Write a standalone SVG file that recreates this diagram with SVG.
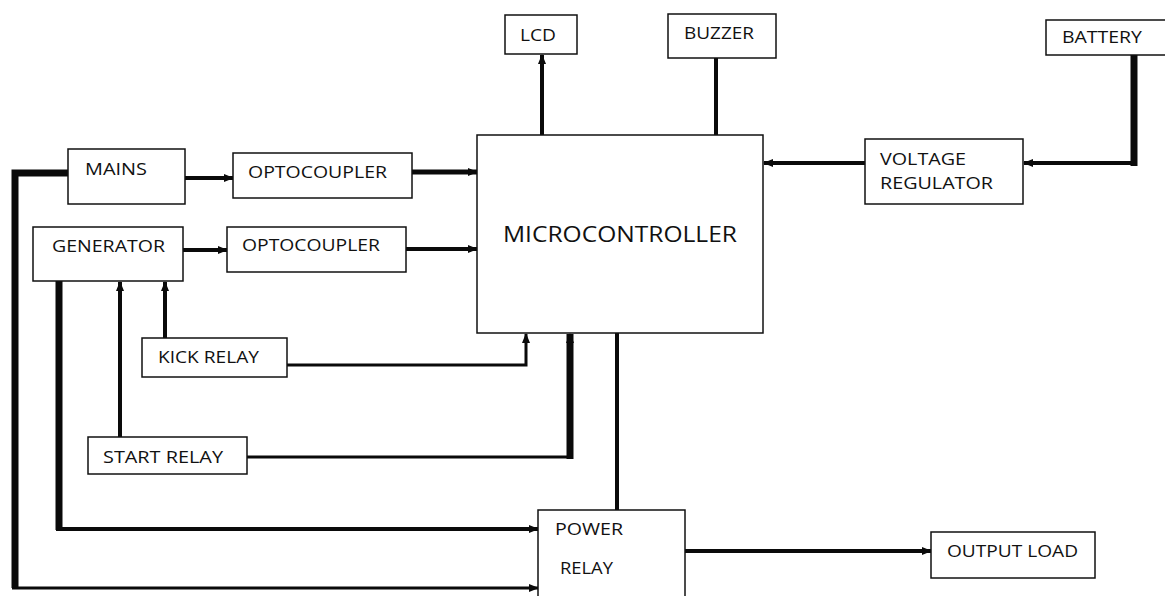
<svg xmlns="http://www.w3.org/2000/svg" width="1165" height="596" viewBox="0 0 1165 596">
<style>
.box{fill:#fff;stroke:#111;stroke-width:1.5}
.t{font-family:"Open Sans","Liberation Sans",sans-serif;font-size:17px;fill:#111}
.big{font-size:22px}
.c{fill:none;stroke:#0a0a0a;stroke-linecap:butt;stroke-linejoin:miter}
.w3{stroke-width:3}
.w4{stroke-width:4}
.w5{stroke-width:5}
.w7{stroke-width:7}
</style>
<defs>
<marker id="ah" markerUnits="userSpaceOnUse" markerWidth="10" markerHeight="10" refX="9" refY="5" orient="auto">
<path d="M0,1 L10,5 L0,9 Z" fill="#0a0a0a"/>
</marker>
</defs>
<rect width="1165" height="596" fill="#fff"/>
<g id="connectors">
<path class="c w4" d="M542,135 V55" marker-end="url(#ah)"/>
<path class="c w4" d="M716,135 V58"/>
<path class="c w7" d="M1134,55 V166"/>
<path class="c w4" d="M1137,163 H1024" marker-end="url(#ah)"/>
<path class="c w4" d="M865,163 H764" marker-end="url(#ah)"/>
<path class="c w4" d="M185,178 H233" marker-end="url(#ah)"/>
<path class="c w5" d="M412,172 H477" marker-end="url(#ah)"/>
<path class="c w4" d="M183,250 H227" marker-end="url(#ah)"/>
<path class="c w4" d="M406,249 H477" marker-end="url(#ah)"/>
<path class="c w7" d="M68,173 H15 V588"/>
<path class="c w3" d="M12,588 H538" marker-end="url(#ah)"/>
<path class="c w7" d="M59,281 V530"/>
<path class="c w4" d="M56,529 H538" marker-end="url(#ah)"/>
<path class="c w4" d="M120,437 V282" marker-end="url(#ah)"/>
<path class="c w4" d="M165,338 V282" marker-end="url(#ah)"/>
<path class="c w3" d="M287,365 H526 V334" marker-end="url(#ah)"/>
<path class="c w3" d="M247,457 H570"/>
<path class="c w7" d="M570,459 V334" marker-end="url(#ah)"/>
<path class="c w4" d="M617,333 V510"/>
<path class="c w4" d="M685,551 H931" marker-end="url(#ah)"/>
</g>
<g id="lcd"><rect class="box" x="505" y="15" width="72" height="39"/><text class="t" x="520" y="41" textLength="36" lengthAdjust="spacingAndGlyphs">LCD</text></g>
<g id="buzzer"><rect class="box" x="668" y="14" width="108" height="44"/><text class="t" x="684" y="39" textLength="70" lengthAdjust="spacingAndGlyphs">BUZZER</text></g>
<g id="battery"><rect class="box" x="1046" y="20" width="125" height="35"/><text class="t" x="1062" y="43" textLength="80" lengthAdjust="spacingAndGlyphs">BATTERY</text></g>
<g id="voltage-regulator"><rect class="box" x="865" y="139" width="158" height="65"/><text class="t" x="880" y="165" textLength="86" lengthAdjust="spacingAndGlyphs">VOLTAGE</text><text class="t" x="880" y="189" textLength="113" lengthAdjust="spacingAndGlyphs">REGULATOR</text></g>
<g id="microcontroller"><rect class="box" x="477" y="135" width="286" height="198"/><text class="t big" x="503" y="242" textLength="234" lengthAdjust="spacingAndGlyphs">MICROCONTROLLER</text></g>
<g id="mains"><rect class="box" x="68" y="149" width="117" height="55"/><text class="t" x="85" y="175" textLength="62" lengthAdjust="spacingAndGlyphs">MAINS</text></g>
<g id="optocoupler1"><rect class="box" x="233" y="153" width="179" height="45"/><text class="t" x="248" y="178" textLength="139" lengthAdjust="spacingAndGlyphs">OPTOCOUPLER</text></g>
<g id="generator"><rect class="box" x="33" y="227" width="150" height="54"/><text class="t" x="52" y="252" textLength="113" lengthAdjust="spacingAndGlyphs">GENERATOR</text></g>
<g id="optocoupler2"><rect class="box" x="227" y="227" width="179" height="45"/><text class="t" x="242" y="251" textLength="138" lengthAdjust="spacingAndGlyphs">OPTOCOUPLER</text></g>
<g id="kick-relay"><rect class="box" x="142" y="338" width="145" height="39"/><text class="t" x="158" y="363" textLength="101" lengthAdjust="spacingAndGlyphs">KICK RELAY</text></g>
<g id="start-relay"><rect class="box" x="88" y="437" width="159" height="37"/><text class="t" x="103" y="463" textLength="120" lengthAdjust="spacingAndGlyphs">START RELAY</text></g>
<g id="power-relay"><rect class="box" x="538" y="510" width="147" height="95"/><text class="t" x="555" y="535" textLength="68" lengthAdjust="spacingAndGlyphs">POWER</text><text class="t" x="560" y="574" textLength="53" lengthAdjust="spacingAndGlyphs">RELAY</text></g>
<g id="output-load"><rect class="box" x="931" y="532" width="164" height="46"/><text class="t" x="947" y="557" textLength="131" lengthAdjust="spacingAndGlyphs">OUTPUT LOAD</text></g>
</svg>
